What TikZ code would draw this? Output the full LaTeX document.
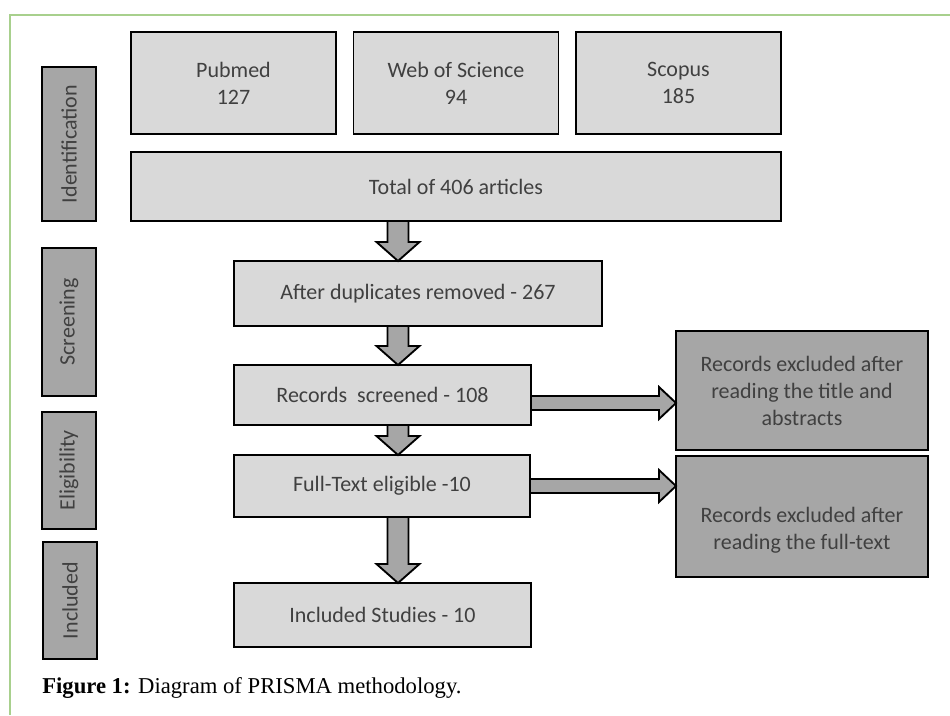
\documentclass[tikz,border=0pt]{standalone}
\usepackage{fontspec}
\setmainfont{Carlito}
\newfontfamily\capfont{Liberation Serif}
\usetikzlibrary{calc}
\definecolor{boxlight}{HTML}{D9D9D9}
\definecolor{boxdark}{HTML}{A6A6A6}
\definecolor{frameline}{RGB}{168,208,141}
\newcommand\pxu{0.75pt}
\newcommand\downblock[2]{\draw[blockarrow] ($(#1.south -| ax)+(-10.5,0)$) -- ($(#2.north -| ax)+(-10.5,-19)$) -- ($(#2.north -| ax)+(-21.5,-19)$) -- (#2.north -| ax) -- ($(#2.north -| ax)+(21.5,-19)$) -- ($(#2.north -| ax)+(10.5,-19)$) -- ($(#1.south -| ax)+(10.5,0)$) -- cycle;}
\newcommand\rightblock[3]{\draw[blockarrow] ($(#1.east)+(0,#3-7)$) -- ($(#2.west |- #1.east)+(-17,#3-7)$) -- ($(#2.west |- #1.east)+(-17,#3-16)$) -- ($(#2.west |- #1.east)+(0,#3)$) -- ($(#2.west |- #1.east)+(-17,#3+16)$) -- ($(#2.west |- #1.east)+(-17,#3+7)$) -- ($(#1.east)+(0,#3+7)$) -- cycle;}

\begin{document}
\begin{tikzpicture}[x=0.75pt, y=-0.75pt,
	boxfont/.style={text=black!75, font=\fontsize{16.5}{20.25}\selectfont},
	box/.style={draw=black, line width=1.4pt, fill=boxlight, boxfont, align=center, inner sep=0pt, outer sep=0pt},
	darkbox/.style={box, fill=boxdark},
	stage/.style={darkbox, rotate=90},
	sz/.style 2 args={minimum width=#1*\pxu, minimum height=#2*\pxu},
	blockarrow/.style={draw=black, line width=1.4pt, fill=boxdark, line join=miter}]
	%%%%% START %%%%%
	
	\useasboundingbox (0,0) rectangle (950,715);
	\draw[frameline, line width=1.5pt] (950,15) -- (10,15) -- (10,715);
	
	% stages
	\node[stage, sz={154}{54}] (ident) at (69,144) {Identification};
	\node[stage, sz={148}{54}] (screen) at (69,322) {Screening};
	\node[stage, sz={117}{54}] (elig) at (69,470.5) {Eligibility};
	\node[stage, sz={117}{54}] (incl) at (70,600.5) {Included};
	
	% sources
	\node[box, sz={205}{102}] (pubmed) at (233.5,83) {Pubmed\\127};
	\node[box, sz={205}{102}] (wos) at (456,83) {Web of Science\\94};
	\node[box, sz={205}{102}] (scopus) at (678.5,83) {Scopus\\185};
	\node[box, sz={650}{69}] (total) at (456,186.5) {Total of 406 articles};
	
	\node[box, sz={368}{65}] (dupl) at (418,293.5) {After duplicates removed - 267};
	\node[box, sz={297}{60}] (screened) at (382.5,395) {Records\ \ screened - 108};
	\node[box, sz={296}{62}] (eligible) at (382,486) {Full-Text eligible -10};
	\node[box, sz={297}{64}] (included) at (382.5,615) {Included Studies - 10};
	
	% excluded
	\node[darkbox, sz={252}{119}] (excla) at (802,390.5) {Records excluded after\\reading the title and\\abstracts};
	\node[darkbox, sz={252}{121}, label={[boxfont, align=center, yshift=-10.5pt]center:Records excluded after\\reading the full-text}] (exclb) at (802,516.5) {};
	
	% arrows
	\coordinate (ax) at (398,0);
	\downblock{total}{dupl}
	\downblock{dupl}{screened}
	\downblock{screened}{eligible}
	\downblock{eligible}{included}
	\rightblock{screened}{excla}{8}
	\rightblock{eligible}{exclb}{0}
	
	\node[anchor=base west, inner sep=0pt, font=\capfont\fontsize{17}{20}\selectfont] (caption) at (42,693) {\textbf{Figure 1:} Diagram of PRISMA methodology.};
	
	%%%%% END %%%%%
\end{tikzpicture}
\end{document}
